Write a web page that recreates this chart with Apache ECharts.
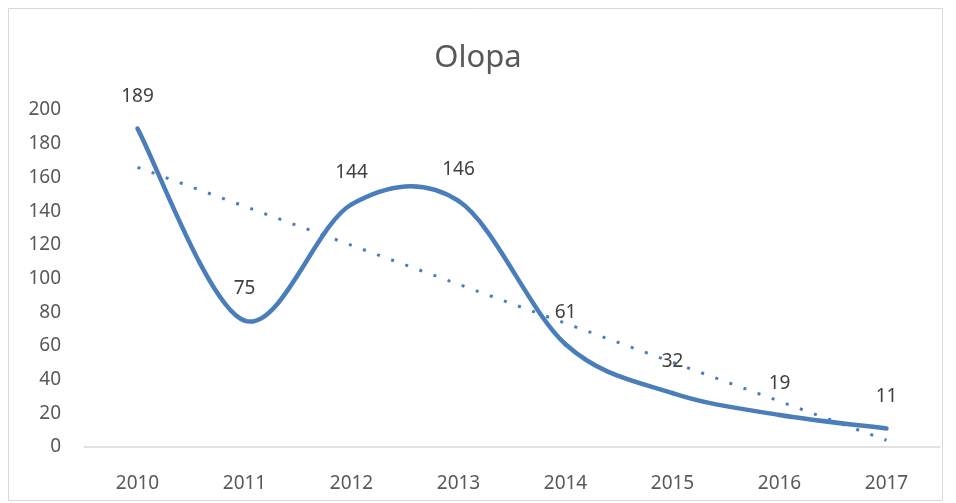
<!DOCTYPE html>
<html>
<head>
<meta charset="utf-8">
<script src="https://cdn.jsdelivr.net/npm/echarts@6/dist/echarts.min.js"></script>
<style>
  html, body { margin: 0; padding: 0; background: #fff; }
  #main { width: 956px; height: 503px; }
</style>
</head>
<body>
<div id="main"></div>
<script>
var years = ['2010', '2011', '2012', '2013', '2014', '2015', '2016', '2017'];
var values = [189, 75, 144, 146, 61, 32, 19, 11];
// linear trend line, only the two ends
var trend = [166, '-', '-', '-', '-', '-', '-', 4];
var yTicks = { min: 0, max: 200, interval: 20 };

var myChart = echarts.init(document.getElementById('main'));

var font = 'Noto Sans';
var blue = '#4a7ebb';

// Excel style smoothed line: one bezier piece per point, to the next point
function renderCurve(params, api) {
    var i = params.dataIndex;
    var n = values.length;
    if (i >= n - 1) return null;
    function pt(k) {
        k = Math.max(0, Math.min(n - 1, k));
        return api.coord([k, values[k]]);
    }
    var p0 = pt(i - 1), p1 = pt(i), p2 = pt(i + 1), p3 = pt(i + 2);
    return {
        type: 'bezierCurve',
        shape: {
            x1: p1[0], y1: p1[1],
            x2: p2[0], y2: p2[1],
            cpx1: p1[0] + (p2[0] - p0[0]) / 6,
            cpy1: p1[1] + (p2[1] - p0[1]) / 6,
            cpx2: p2[0] - (p3[0] - p1[0]) / 6,
            cpy2: p2[1] - (p3[1] - p1[1]) / 6
        },
        style: { fill: null, stroke: blue, lineWidth: 4.5, lineCap: 'round' }
    };
}

option = {
    animation: false,
    backgroundColor: '#fff',
    title: {
        text: 'Olopa',
        left: 'center',
        top: 38,
        textStyle: {
            fontFamily: font,
            fontSize: 31,
            fontWeight: 'normal',
            color: '#595959'
        }
    },
    graphic: [{
        type: 'rect',
        shape: { x: 8.5, y: 8.5, width: 934, height: 492 },
        style: { fill: 'none', stroke: '#d9d9d9', lineWidth: 1 },
        z: -1
    }],
    grid: {
        left: 84,
        right: 16,
        top: 110,
        bottom: 56
    },
    xAxis: {
        type: 'category',
        data: years,
        boundaryGap: true,
        axisLine: { lineStyle: { color: '#d9d9d9', width: 1.5 } },
        axisTick: { show: false },
        axisLabel: {
            margin: 27,
            fontFamily: font,
            fontSize: 19,
            color: '#595959'
        }
    },
    yAxis: {
        type: 'value',
        min: yTicks.min,
        max: yTicks.max,
        interval: yTicks.interval,
        axisLine: { show: false },
        axisTick: { show: false },
        splitLine: { show: false },
        axisLabel: {
            margin: 23,
            fontFamily: font,
            fontSize: 19,
            color: '#595959'
        }
    },
    series: [
        {
            name: 'Olopa',
            type: 'custom',
            renderItem: renderCurve,
            data: values.map(function (v, i) { return [i, v]; }),
            encode: { x: 0, y: 1 },
            z: 3
        },
        {
            name: 'labels',
            type: 'line',
            data: values,
            symbol: 'circle',
            symbolSize: 0.1,
            itemStyle: { color: 'rgba(0,0,0,0)' },
            lineStyle: { width: 0, opacity: 0 },
            label: {
                show: true,
                position: 'top',
                distance: 22,
                fontFamily: font,
                fontSize: 19,
                color: '#404040'
            },
            z: 4
        },
        {
            name: 'trend',
            type: 'line',
            data: trend,
            connectNulls: true,
            symbol: 'none',
            lineStyle: { color: blue, width: 3, type: [3, 12], cap: 'butt' },
            z: 2
        }
    ]
};

myChart.setOption(option);
</script>
</body>
</html>
